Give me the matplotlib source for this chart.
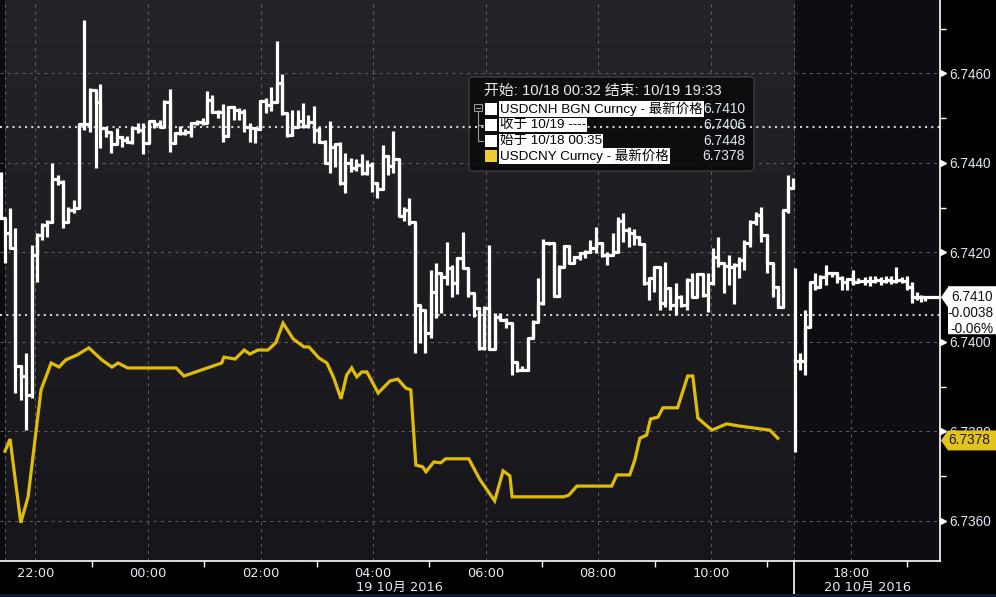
import numpy as np
import matplotlib
matplotlib.use("Agg")
import matplotlib.pyplot as plt
from matplotlib.patches import Polygon, Rectangle, FancyBboxPatch
from matplotlib.transforms import blended_transform_factory
from matplotlib.colors import LinearSegmentedColormap

plt.rcParams['font.family'] = ['DejaVu Sans', 'Noto Sans CJK SC']

# ---------------- data ----------------
# USDCNH bars; time = hours relative to 2016-10-19 00:00
cnh_time = [-2.61, -2.54, -2.45, -2.36, -2.26, -2.17, -2.06, -1.97, -1.88, -1.79,
            -1.71, -1.60, -1.51, -1.42, -1.31, -1.23, -1.14, -1.03, -0.92, -0.85,
            -0.75, -0.66, -0.55, -0.46, -0.37, -0.28, -0.18, -0.09, 0.02, 0.11,
            0.21, 0.28, 0.39, 0.48, 0.57, 0.66, 0.76, 0.87, 0.98, 1.05,
            1.14, 1.24, 1.33, 1.42, 1.53, 1.62, 1.71, 1.81, 1.90, 1.99,
            2.10, 2.19, 2.29, 2.38, 2.47, 2.56, 2.66, 2.75, 2.84, 2.95,
            3.04, 3.14, 3.23, 3.32, 3.41, 3.50, 3.61, 3.69, 3.80, 3.89,
            3.98, 4.07, 4.17, 4.26, 4.35, 4.46, 4.55, 4.64, 4.74, 4.83,
            4.92, 5.03, 5.12, 5.20, 5.31, 5.40, 5.49, 5.60, 5.68, 5.79,
            5.88, 5.97, 6.06, 6.16, 6.25, 6.36, 6.47, 6.55, 6.64, 6.75,
            6.84, 6.93, 7.02, 7.12, 7.21, 7.30, 7.39, 7.48, 7.57, 7.67,
            7.76, 7.85, 7.96, 8.06, 8.15, 8.26, 8.35, 8.44, 8.54, 8.63,
            8.72, 8.81, 8.90, 8.99, 9.09, 9.18, 9.27, 9.38, 9.47, 9.57,
            9.66, 9.75, 9.86, 9.95, 10.04, 10.12, 10.23, 10.32, 10.41, 10.50,
            10.59, 10.69, 10.80, 10.89, 10.99, 11.10, 11.19, 11.28, 11.37, 11.46,
            17.01, 17.10, 17.19, 17.28, 17.36, 17.45, 17.56, 17.67, 17.76, 17.84,
            17.93, 18.04, 18.13, 18.25, 18.34, 18.43, 18.54, 18.63, 18.71, 18.80,
            18.91, 19.00, 19.09, 19.18, 19.25, 19.32]
cnh_high = [6.74380, 6.74246, 6.74299, 6.74255, 6.73949, 6.73975, 6.74217, 6.74244, 6.74266, 6.74273,
            6.74400, 6.74373, 6.74362, 6.74302, 6.74317, 6.74487, 6.74720, 6.74568, 6.74563, 6.74577,
            6.74480, 6.74467, 6.74478, 6.74460, 6.74460, 6.74480, 6.74489, 6.74489, 6.74494, 6.74496,
            6.74496, 6.74541, 6.74565, 6.74469, 6.74483, 6.74476, 6.74492, 6.74496, 6.74501, 6.74561,
            6.74552, 6.74518, 6.74532, 6.74527, 6.74527, 6.74523, 6.74521, 6.74489, 6.74480, 6.74541,
            6.74545, 6.74570, 6.74673, 6.74599, 6.74512, 6.74518, 6.74518, 6.74534, 6.74507, 6.74527,
            6.74480, 6.74451, 6.74494, 6.74445, 6.74447, 6.74422, 6.74411, 6.74409, 6.74420, 6.74407,
            6.74402, 6.74358, 6.74440, 6.74418, 6.74472, 6.74409, 6.74302, 6.74322, 6.74268, 6.74083,
            6.74045, 6.74161, 6.74177, 6.74154, 6.74223, 6.74172, 6.74190, 6.74246, 6.74165, 6.74110,
            6.74078, 6.74080, 6.74217, 6.74065, 6.74065, 6.74054, 6.74042, 6.73953, 6.73946, 6.74009,
            6.74049, 6.74143, 6.74230, 6.74223, 6.74221, 6.74172, 6.74217, 6.74217, 6.74192, 6.74201,
            6.74206, 6.74228, 6.74257, 6.74223, 6.74201, 6.74244, 6.74279, 6.74288, 6.74257, 6.74253,
            6.74237, 6.74221, 6.74145, 6.74168, 6.74168, 6.74179, 6.74123, 6.74132, 6.74105, 6.74143,
            6.74154, 6.74154, 6.74112, 6.74154, 6.74210, 6.74235, 6.74177, 6.74194, 6.74177, 6.74190,
            6.74228, 6.74273, 6.74291, 6.74302, 6.74241, 6.74177, 6.74125, 6.74295, 6.74373, 6.74366,
            6.74165, 6.73975, 6.74072, 6.74134, 6.74154, 6.74150, 6.74172, 6.74156, 6.74156, 6.74147,
            6.74143, 6.74161, 6.74143, 6.74145, 6.74147, 6.74147, 6.74145, 6.74147, 6.74147, 6.74168,
            6.74145, 6.74147, 6.74134, 6.74112, 6.74105, 6.74103]
cnh_low = [6.74277, 6.74177, 6.74210, 6.73886, 6.73870, 6.73803, 6.73875, 6.74134, 6.74228, 6.74235,
           6.74266, 6.74351, 6.74255, 6.74268, 6.74288, 6.74299, 6.74474, 6.74469, 6.74389, 6.74434,
           6.74458, 6.74422, 6.74442, 6.74436, 6.74445, 6.74442, 6.74467, 6.74420, 6.74445, 6.74478,
           6.74480, 6.74480, 6.74425, 6.74442, 6.74463, 6.74463, 6.74458, 6.74485, 6.74485, 6.74489,
           6.74512, 6.74501, 6.74447, 6.74458, 6.74496, 6.74496, 6.74469, 6.74447, 6.74445, 6.74474,
           6.74512, 6.74516, 6.74534, 6.74507, 6.74458, 6.74460, 6.74478, 6.74478, 6.74478, 6.74445,
           6.74445, 6.74400, 6.74378, 6.74391, 6.74351, 6.74333, 6.74380, 6.74382, 6.74373, 6.74373,
           6.74335, 6.74322, 6.74340, 6.74373, 6.74378, 6.74282, 6.74270, 6.74261, 6.73975, 6.73998,
           6.73975, 6.74009, 6.74054, 6.74065, 6.74127, 6.74101, 6.74107, 6.74165, 6.74101, 6.74056,
           6.73982, 6.73982, 6.73984, 6.73984, 6.74049, 6.74031, 6.73926, 6.73933, 6.73935, 6.73935,
           6.74009, 6.74045, 6.74083, 6.74217, 6.74101, 6.74101, 6.74168, 6.74177, 6.74177, 6.74183,
           6.74188, 6.74199, 6.74199, 6.74190, 6.74172, 6.74199, 6.74201, 6.74223, 6.74212, 6.74217,
           6.74217, 6.74127, 6.74094, 6.74112, 6.74072, 6.74078, 6.74072, 6.74060, 6.74078, 6.74072,
           6.74101, 6.74101, 6.74101, 6.74067, 6.74127, 6.74168, 6.74110, 6.74127, 6.74085, 6.74143,
           6.74161, 6.74212, 6.74261, 6.74223, 6.74154, 6.74101, 6.74076, 6.74076, 6.74288, 6.74342,
           6.73754, 6.73937, 6.73926, 6.74034, 6.74116, 6.74127, 6.74127, 6.74145, 6.74132, 6.74116,
           6.74116, 6.74127, 6.74132, 6.74127, 6.74125, 6.74132, 6.74127, 6.74132, 6.74130, 6.74132,
           6.74132, 6.74116, 6.74087, 6.74094, 6.74089, 6.74092]
cnh_close = [6.74277, 6.74244, 6.74210, 6.73946, 6.73924, 6.73882, 6.74194, 6.74239, 6.74261, 6.74268,
             6.74364, 6.74358, 6.74268, 6.74295, 6.74299, 6.74487, 6.74487, 6.74563, 6.74536, 6.74478,
             6.74469, 6.74442, 6.74458, 6.74451, 6.74447, 6.74478, 6.74474, 6.74445, 6.74494, 6.74487,
             6.74480, 6.74536, 6.74445, 6.74467, 6.74467, 6.74469, 6.74489, 6.74492, 6.74489, 6.74541,
             6.74514, 6.74514, 6.74460, 6.74525, 6.74518, 6.74514, 6.74480, 6.74478, 6.74476, 6.74539,
             6.74530, 6.74536, 6.74579, 6.74512, 6.74463, 6.74480, 6.74494, 6.74483, 6.74492, 6.74474,
             6.74447, 6.74400, 6.74436, 6.74442, 6.74355, 6.74400, 6.74389, 6.74396, 6.74378, 6.74396,
             6.74355, 6.74342, 6.74416, 6.74393, 6.74409, 6.74282, 6.74295, 6.74268, 6.74083, 6.74072,
             6.74020, 6.74112, 6.74154, 6.74145, 6.74165, 6.74132, 6.74188, 6.74165, 6.74110, 6.74076,
             6.73987, 6.74076, 6.73984, 6.74056, 6.74049, 6.74042, 6.73955, 6.73937, 6.73937, 6.74009,
             6.74045, 6.74087, 6.74221, 6.74221, 6.74103, 6.74168, 6.74215, 6.74177, 6.74190, 6.74199,
             6.74201, 6.74210, 6.74221, 6.74194, 6.74194, 6.74201, 6.74270, 6.74250, 6.74244, 6.74235,
             6.74219, 6.74132, 6.74143, 6.74168, 6.74087, 6.74121, 6.74083, 6.74101, 6.74083, 6.74139,
             6.74101, 6.74152, 6.74105, 6.74132, 6.74190, 6.74177, 6.74170, 6.74168, 6.74172, 6.74183,
             6.74221, 6.74268, 6.74284, 6.74239, 6.74177, 6.74123, 6.74078, 6.74295, 6.74344, 6.74355,
             6.73958, 6.73958, 6.74034, 6.74134, 6.74123, 6.74145, 6.74154, 6.74154, 6.74143, 6.74134,
             6.74141, 6.74134, 6.74136, 6.74136, 6.74136, 6.74139, 6.74136, 6.74139, 6.74136, 6.74139,
             6.74136, 6.74123, 6.74101, 6.74101, 6.74101, 6.74100]
cnh_end_time = 19.55

# USDCNY line
cny_time = [-2.54, -2.45, -2.26, -2.13, -1.90, -1.72, -1.58, -1.46, -1.26, -1.05,
            -0.82, -0.64, -0.53, -0.36, 0.50, 0.64, 1.31, 1.35, 1.55, 1.71,
            1.81, 1.95, 2.13, 2.27, 2.40, 2.58, 2.77, 2.86, 3.04, 3.18,
            3.30, 3.43, 3.53, 3.62, 3.71, 3.80, 3.89, 4.09, 4.30, 4.44,
            4.58, 4.67, 4.76, 4.88, 4.94, 5.08, 5.20, 5.29, 5.70, 5.90,
            6.16, 6.31, 6.43, 6.47, 7.39, 7.48, 7.62, 8.24, 8.33, 8.56,
            8.65, 8.74, 8.86, 8.93, 9.06, 9.15, 9.41, 9.59, 9.68, 9.77,
            10.02, 10.28, 10.52, 11.05, 11.19]
cny_value = [6.73756, 6.73783, 6.73596, 6.73654, 6.73893, 6.73953, 6.73944, 6.73960, 6.73971, 6.73987,
             6.73960, 6.73944, 6.73953, 6.73942, 6.73942, 6.73924, 6.73953, 6.73966, 6.73962, 6.73982,
             6.73973, 6.73982, 6.73982, 6.73998, 6.74042, 6.74007, 6.73989, 6.73989, 6.73964, 6.73953,
             6.73920, 6.73873, 6.73926, 6.73942, 6.73922, 6.73933, 6.73933, 6.73886, 6.73913, 6.73917,
             6.73897, 6.73893, 6.73725, 6.73721, 6.73710, 6.73732, 6.73730, 6.73739, 6.73739, 6.73692,
             6.73645, 6.73712, 6.73701, 6.73654, 6.73654, 6.73658, 6.73678, 6.73678, 6.73703, 6.73703,
             6.73736, 6.73785, 6.73792, 6.73828, 6.73832, 6.73853, 6.73853, 6.73924, 6.73924, 6.73830,
             6.73803, 6.73817, 6.73812, 6.73803, 6.73785]

ref_close = 6.7406   # 收于 10/19
ref_open = 6.7448    # 始于 10/18 00:35
last_cnh = 6.7410
last_cny = 6.7378
chg_abs = "-0.0038"
chg_pct = "-0.06%"

xtick_pos = [-2, 0, 2, 4, 6, 8, 10, 18]
xtick_lab = ['22:00', '00:00', '02:00', '04:00', '06:00', '08:00', '10:00', '18:00']
xminor_pos = [-1, 1, 3, 5, 7, 9, 11, 19]
date_pos = [4.46, 18.29]
date_lab = ['19 10月 2016', '20 10月 2016']
ytick_pos = [6.736, 6.738, 6.740, 6.742, 6.744, 6.746]
yminor_pos = [6.737, 6.739, 6.741, 6.743, 6.745, 6.747]

session_start = -2.54
gap_start = 11.483
gap_end = 17.0
x_lim = (-2.629, 19.584)
y_lim = (6.735106, 6.747642)

legend_header = '开始: 10/18 00:32 结束: 10/19 19:33'
legend_rows = ['USDCNH BGN Curncy - 最新价格', '收于 10/19 ----', '始于 10/18 00:35', 'USDCNY Curncy - 最新价格']
legend_vals = ['6.7410', '6.7406', '6.7448', '6.7378']

# ---------------- style ----------------
W, H = 996, 597
WHITE = '#ffffff'
YELLOW = '#dfbd06'
LABEL = '#dfe8f2'

fig = plt.figure(figsize=(W / 100, H / 100), dpi=100, facecolor='black')
ax = fig.add_axes([0, 36 / H, 940 / W, 561 / H])
ax.set_facecolor('#1c1c20')

K = 1e-3
def fwd(t):
    t = np.asarray(t, dtype=float)
    return np.where(t <= gap_start, t,
                    np.where(t >= gap_end, t - (gap_end - gap_start) * (1 - K),
                             gap_start + (t - gap_start) * K))

def inv(u):
    u = np.asarray(u, dtype=float)
    b = gap_start + (gap_end - gap_start) * K
    return np.where(u <= gap_start, u,
                    np.where(u >= b, u + (gap_end - gap_start) * (1 - K),
                             gap_start + (u - gap_start) / K))

ax.set_xscale('function', functions=(fwd, inv))

# background gradient
grad = np.linspace(0, 1, 256).reshape(-1, 1)
cmap = LinearSegmentedColormap.from_list('bg', ['#17171b', '#242428'])
ax.imshow(grad, extent=(0, 1, 0, 1), transform=ax.transAxes, cmap=cmap,
          aspect='auto', origin='lower', zorder=0, interpolation='bilinear')
ax.axvspan(x_lim[0], session_start, color='#0c0c10', zorder=0.5, lw=0)
ax.axvspan(gap_end, x_lim[1], color='#0e0e12', zorder=0.5, lw=0)

ax.set_xlim(*x_lim)
ax.set_ylim(*y_lim)

# grid
gkw = dict(color='#5e5e62', lw=0.75, dashes=(3, 4))
for yv in ytick_pos:
    ax.axhline(yv, zorder=1, **gkw)
for xv in xtick_pos + [session_start, gap_start]:
    ax.axvline(xv, zorder=1, **gkw)

# reference dotted lines
ax.axhline(ref_open, color='#cfcfcf', lw=1.5, dashes=(1, 2), zorder=4)
ax.axhline(ref_close, color='#cfcfcf', lw=1.5, dashes=(1, 2), zorder=4)

# USDCNY
ax.plot(cny_time, cny_value, color=YELLOW, lw=2.3, zorder=5, solid_joinstyle='miter')

# USDCNH bars
t = np.array(cnh_time)
hi = np.array(cnh_high)
lo = np.array(cnh_low)
cl = np.array(cnh_close)
ax.vlines(t, lo, hi, color=WHITE, lw=2.3, zorder=6)
L = t < gap_start
R = ~L
ax.plot(t[L], cl[L], drawstyle='steps-post', color=WHITE, lw=2.3, zorder=6)
ax.plot(np.append(t[R], cnh_end_time), np.append(cl[R], cl[R][-1]),
        drawstyle='steps-post', color=WHITE, lw=2.3, zorder=6)

# spines
for s in ['left', 'top']:
    ax.spines[s].set_visible(False)
for s in ['right', 'bottom']:
    ax.spines[s].set_color('white')
    ax.spines[s].set_linewidth(1.2)
    ax.spines[s].set_zorder(7)

# y axis (right)
ax.yaxis.tick_right()
ax.set_yticks(ytick_pos)
ax.set_yticklabels(['%.4f' % v for v in ytick_pos])
ax.set_yticks(yminor_pos, minor=True)
ax.tick_params(axis='y', which='major', length=0, pad=6.5, labelsize=9.8,
               labelcolor=LABEL, labelfontfamily='Liberation Sans')
ax.tick_params(axis='y', which='minor', length=4, width=1, color='white')
ytrans = blended_transform_factory(ax.transAxes, ax.transData)
ax.plot([1.0035] * len(ytick_pos), ytick_pos, ls='none', marker='>', ms=5,
        color='white', transform=ytrans, clip_on=False, zorder=8)

# x axis
ax.set_xticks(xtick_pos)
ax.set_xticklabels(xtick_lab)
ax.set_xticks(xminor_pos, minor=True)
ax.tick_params(axis='x', which='major', length=0, pad=4, labelsize=9.3, labelcolor='#e6ecf3')
ax.tick_params(axis='x', which='minor', length=4, width=1, color='white')
xtrans = blended_transform_factory(ax.transData, ax.transAxes)
for xp, lab in zip(date_pos, date_lab):
    ax.text(xp, -26 / 561, lab, transform=xtrans, ha='center', va='center',
            fontsize=9.3, color='#e6ecf3', clip_on=False)
ax.plot([gap_start, gap_start], [0, -40 / 561], color='white', lw=1.2,
        transform=xtrans, clip_on=False, zorder=8)

# bottom strip
fig.patches.append(Rectangle((0, 0), 1, 3.5 / H, transform=fig.transFigure,
                             facecolor='#0c1b36', edgecolor='none', zorder=1))

def P(x, y):
    return (x / W, 1 - y / H)

# legend
box = FancyBboxPatch(P(469, 171), (754 - 469) / W, (171 - 77) / H,
                     boxstyle='round,pad=0,rounding_size=0.004',
                     transform=fig.transFigure, facecolor='#0a0a0d', edgecolor='#3c3c40',
                     lw=1.2, alpha=0.85, zorder=3, clip_on=False)
ax.add_patch(box)
lfam = ['Liberation Sans', 'Noto Sans CJK SC']
fig.text(*P(484, 91), legend_header, ha='left', va='center', color='#ececec',
         fontsize=10.7, family=lfam, zorder=10)
row_y = [109, 125, 141, 156]
sq_cols = ['white', 'white', 'white', '#f0cc30']
for yy, lab, val, sc in zip(row_y, legend_rows, legend_vals, sq_cols):
    fig.patches.append(Rectangle(P(485, yy + 6), 12 / W, 12 / H, transform=fig.transFigure,
                                 facecolor=sc, edgecolor='none', zorder=9))
    fig.text(*P(500, yy), lab, ha='left', va='center', color='black', fontsize=9.7,
             family=lfam, zorder=10,
             bbox=dict(facecolor='white', edgecolor='none', pad=0.8))
    fig.text(*P(745, yy), val, ha='right', va='center', color=LABEL, fontsize=9.9,
             family='Liberation Sans', zorder=10)
# tree icon
tc = '#9a9a9a'
fig.patches.append(Rectangle(P(474, 111), 8 / W, 7 / H, transform=fig.transFigure,
                             facecolor='none', edgecolor=tc, lw=0.8, zorder=9))
fig.lines.append(plt.Line2D([P(476, 0)[0], P(480, 0)[0]], [P(0, 107.5)[1]] * 2,
                            transform=fig.transFigure, color=tc, lw=0.8, zorder=9))
fig.lines.append(plt.Line2D([P(478, 0)[0]] * 2, [P(0, 111)[1], P(0, 141)[1]],
                            transform=fig.transFigure, color=tc, lw=0.8, zorder=9))
for yy in (125, 141):
    fig.lines.append(plt.Line2D([P(478, 0)[0], P(483, 0)[0]], [P(0, yy)[1]] * 2,
                                transform=fig.transFigure, color=tc, lw=0.8, zorder=9))

# value tags on right axis
def val_to_py(v):
    return H - ax.transData.transform((0.0, v))[1]

yv = val_to_py(last_cnh)
wt = [P(941, yv), P(948, yv - 10), P(948, yv - 11), P(996, yv - 11), P(996, yv + 37),
      P(948, yv + 37), P(948, yv + 10)]
fig.patches.append(Polygon(wt, closed=True, transform=fig.transFigure,
                           facecolor='white', edgecolor='none', zorder=11))
for i, s in enumerate(['%.4f' % last_cnh, chg_abs, chg_pct]):
    fig.text(*P(993, yv + 16 * i), s, ha='right', va='center', color='#111111',
             fontsize=9.8, family='Liberation Sans', zorder=12)

yc = val_to_py(last_cny)
yt = [P(941, yc), P(948, yc - 10), P(996, yc - 10), P(996, yc + 10), P(948, yc + 10)]
fig.patches.append(Polygon(yt, closed=True, transform=fig.transFigure,
                           facecolor='#e4c21c', edgecolor='none', zorder=11))
fig.text(*P(969, yc), '%.4f' % last_cny, ha='center', va='center', color='#1a1a1a',
         fontsize=9.8, family='Liberation Sans', zorder=12)

fig.savefig('out.png', dpi=100, facecolor='black')
